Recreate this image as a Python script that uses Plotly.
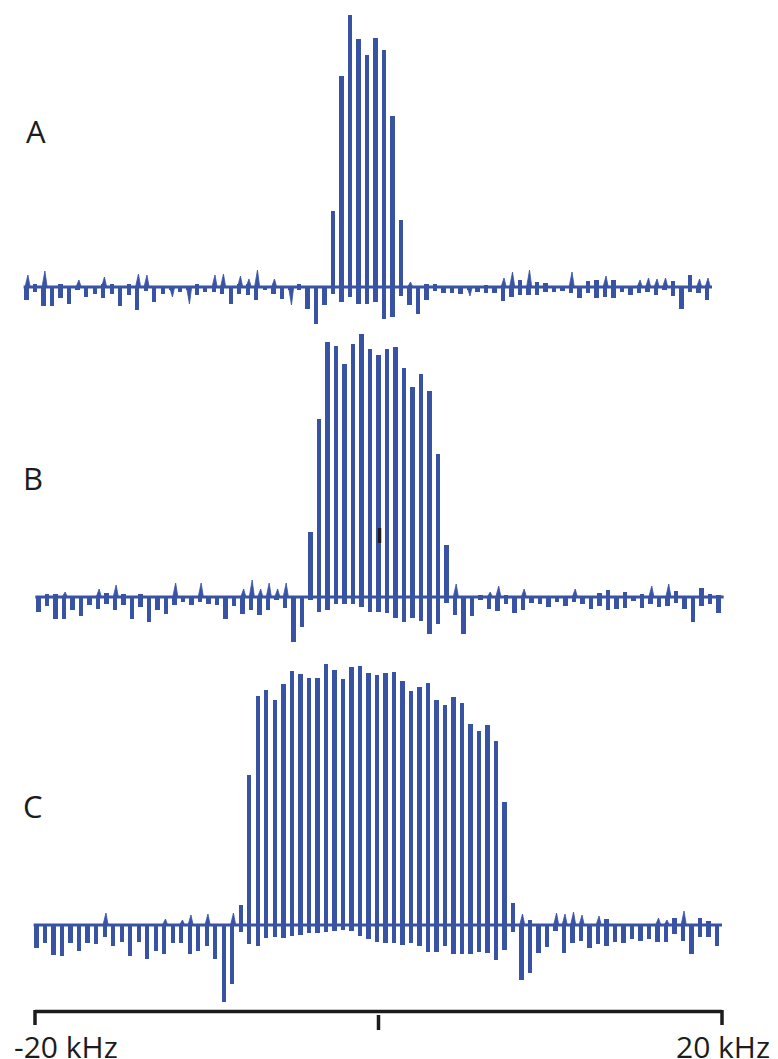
import plotly.graph_objects as go

# ---------------- data (intensities in arbitrary units) ----------------
FREQ_START_KHZ = -19.90
FREQ_STEP_KHZ = 0.495
N_LINES = 81

A_UP = [0,3,0,0,3,0,0,0,0,3, 3,0,3,0,0,0,0,0,0,0, 3,0,0,0,0,3,3,0,0,0,
        0,0,3,0,0,0,76,211,272,248, 232,249,237,171,67,0,0,3,3,0,
        0,0,0,0,2,0,0,0,7,0, 5,4,0,0,0,0,6,7,0,7, 0,0,0,0,0,0,6,0,12,0, 0]
A_DOWN = [13,5,19,19,11,17,3,10,7,11, 7,19,8,23,4,15,7,3,5,3, 8,5,5,7,17,7,8,13,3,7,
          12,3,3,22,37,18,7,15,10,17, 17,15,32,30,9,18,27,13,4,6,
          6,7,3,5,6,6,14,10,8,8, 8,5,5,4,6,11,6,11,10,11, 5,8,6,5,8,3,9,22,5,6, 13]
A_TRI = [12,0,16,0,0,0,7,0,0,10, 0,0,0,13,12,0,0,-10,0,-17, 0,0,12,13,0,11,8,17,0,8,
         0,-18,0,0,0,0,0,0,0,0, 0,0,0,0,0,5,0,0,0,0,
         0,0,-9,0,0,0,9,15,0,17, 0,0,0,0,15,0,0,0,11,0, 0,0,7,9,8,9,0,0,0,8, 9]

B_UP = [0,3,3,0,0,0,0,0,4,0, 3,0,3,0,0,0,0,0,0,0, 0,0,0,0,0,0,0,0,0,0,
        0,0,65,178,255,251,233,253,263,248, 242,248,250,229,210,223,206,143,52,0,
        0,0,2,0,0,2,0,0,0,0, 0,0,0,0,0,0,4,7,0,5, 0,3,0,0,0,6,0,0,9,3, 2]
B_DOWN = [15,9,22,22,13,19,8,12,7,13, 8,22,10,25,13,17,8,5,8,5, 7,8,22,9,17,13,18,13,3,11,
          45,30,3,15,13,7,7,7,10,15, 15,16,21,25,21,24,37,27,6,18,
          37,19,3,12,14,7,16,13,6,7, 10,5,9,5,7,12,9,13,12,11, 4,11,7,10,9,6,12,25,9,7, 16]
B_TRI = [0,0,0,5,0,0,0,8,0,12, 0,0,0,0,0,0,14,0,0,14, 0,0,0,0,8,17,8,14,8,14,
         0,0,0,0,0,0,0,0,0,0, 0,0,0,0,0,0,0,0,0,13,
         0,0,0,5,11,0,0,8,0,0, 0,0,0,8,0,0,0,0,0,0, 0,0,11,0,13,0,0,0,0,0, 0]

C_UP = [0,0,0,0,0,0,0,0,0,0, 0,0,0,0,0,0,0,0,0,0, 0,0,0,0,20,150,229,235,225,241,
        254,251,247,247,261,255,246,258,259,252, 250,252,253,244,234,238,242,225,220,228,
        222,201,194,200,184,123,22,0,5,0, 0,0,0,0,0,0,0,6,0,0, 0,0,0,0,0,7,0,0,7,4, 0]
C_DOWN = [23,18,30,31,18,26,18,19,12,21, 17,31,17,34,26,29,18,18,29,26, 21,34,77,59,7,19,21,13,12,13,
          11,10,8,8,7,6,5,6,11,14, 17,18,18,20,18,21,27,27,21,29,
          29,29,27,28,35,25,7,55,48,28, 22,6,28,18,16,23,19,21,17,18, 14,16,14,17,17,9,16,29,12,12, 21]
C_TRI = [0,0,0,0,0,0,0,0,12,0, 0,0,0,0,0,6,0,5,10,0, 11,0,0,12,0,0,0,0,0,0,
         0,0,0,0,0,0,0,0,0,0, 0,0,0,0,0,0,0,0,0,0,
         0,0,0,0,0,0,0,11,0,0, 0,12,11,13,10,0,9,0,0,0, 0,0,0,7,5,0,14,0,0,0, 0]

PANEL_LABELS = ["A", "B", "C"]
TICK_VALUES = [-20, 0, 20]
TICK_LABELS = ["-20 kHz", "", "20 kHz"]
CENTER_MARK_KHZ = 0.06          # small dark marker inside panel B
CENTER_MARK_SPAN = (54, 69)

# ---------------- geometry / style ----------------
W, H = 778, 1059
AXIS_LEFT_PX, AXIS_RIGHT_PX = 35, 722
PPK = (AXIS_RIGHT_PX - AXIS_LEFT_PX) / 40.0
BLUE = "#3953a4"
INK = "#1c1c1c"
FONT = "Open Sans"
STICK_W = 0.26
BASELINE_KHZ = (-20.08, 20.0)

positions = [FREQ_START_KHZ + FREQ_STEP_KHZ * i for i in range(N_LINES)]

panels = [
    dict(label=PANEL_LABELS[0], up=A_UP, down=A_DOWN, tri=A_TRI, shift=-10, top=0, bottom=332, base=287, lab=(36, 131)),
    dict(label=PANEL_LABELS[1], up=B_UP, down=B_DOWN, tri=B_TRI, shift=1.7, top=322, bottom=652, base=597, lab=(33, 478)),
    dict(label=PANEL_LABELS[2], up=C_UP, down=C_DOWN, tri=C_TRI, shift=0, top=648, bottom=1008, base=925, lab=(33, 806)),
]

fig = go.Figure()
layout = dict(width=W, height=H, margin=dict(l=0, r=0, t=0, b=0),
              paper_bgcolor="white", plot_bgcolor="rgba(0,0,0,0)", showlegend=False,
              bargap=0)
annotations = []
shapes = []

axis_ids = {"C": ("x", "y", ""), "B": ("x2", "y2", "2"), "A": ("x3", "y3", "3")}

for p in panels:
    xa, ya, suf = axis_ids[p["label"]]
    left = -20 - (AXIS_LEFT_PX + p["shift"]) / PPK
    right = left + W / PPK
    layout["xaxis" + suf] = dict(domain=[0, 1], range=[left, right], visible=False,
                                 anchor=ya, fixedrange=True)
    layout["yaxis" + suf] = dict(domain=[(H - p["bottom"]) / H, (H - p["top"]) / H],
                                 range=[-(p["bottom"] - p["base"]), p["base"] - p["top"]],
                                 visible=False, anchor=xa, fixedrange=True)
    # baseline
    fig.add_trace(go.Scatter(x=list(BASELINE_KHZ), y=[0, 0], mode="lines",
                             line=dict(color=BLUE, width=3), xaxis=xa, yaxis=ya, hoverinfo="skip"))
    # narrow triangular features on the baseline
    tx, ty = [], []
    for xp, h in zip(positions, p["tri"]):
        if h:
            tx += [xp - 0.10, xp + 0.07, xp + 0.20, None]
            ty += [0, h, 0, None]
    fig.add_trace(go.Scatter(x=tx, y=ty, mode="lines", fill="toself", fillcolor=BLUE,
                             line=dict(color=BLUE, width=0.8), xaxis=xa, yaxis=ya, hoverinfo="skip"))
    # sticks (from -down to +up)
    fig.add_trace(go.Bar(x=positions, y=[u + d for u, d in zip(p["up"], p["down"])],
                         base=[-d for d in p["down"]], width=STICK_W,
                         marker=dict(color=BLUE, line=dict(width=0)),
                         xaxis=xa, yaxis=ya, hoverinfo="skip"))
    annotations.append(dict(text=p["label"], x=p["lab"][0] / W, y=(H - p["lab"][1]) / H,
                            xref="paper", yref="paper", xanchor="center", yanchor="middle",
                            showarrow=False, font=dict(family=FONT, size=31, color=INK)))

# small dark marker in panel B
shapes.append(dict(type="rect", xref="x", yref="y2",
                   x0=CENTER_MARK_KHZ - 0.1, x1=CENTER_MARK_KHZ + 0.1,
                   y0=CENTER_MARK_SPAN[0], y1=CENTER_MARK_SPAN[1],
                   fillcolor=INK, line=dict(width=0)))

# frequency axis drawn at the bottom
AXIS_Y = (H - 1011.5) / H
shapes.append(dict(type="line", xref="x", yref="paper", x0=min(TICK_VALUES), x1=max(TICK_VALUES),
                   y0=AXIS_Y, y1=AXIS_Y, line=dict(color=INK, width=3.5)))
for tv in TICK_VALUES:
    top_py, bot_py = (1015, 1030) if tv == 0 else (1010, 1025)
    shapes.append(dict(type="line", xref="x", yref="paper", x0=tv, x1=tv,
                       y0=(H - top_py) / H, y1=(H - bot_py) / H, line=dict(color=INK, width=3.5)))
for tv, tl in zip(TICK_VALUES, TICK_LABELS):
    if not tl:
        continue
    if tv < 0:
        annotations.append(dict(text=tl, x=tv, xref="x", y=(H - 1046) / H, yref="paper",
                                xanchor="left", yanchor="middle", xshift=-23, showarrow=False,
                                font=dict(family=FONT, size=30, color=INK)))
    else:
        annotations.append(dict(text=tl, x=tv, xref="x", y=(H - 1046) / H, yref="paper",
                                xanchor="center", yanchor="middle", xshift=1, showarrow=False,
                                font=dict(family=FONT, size=30, color=INK)))

layout["annotations"] = annotations
layout["shapes"] = shapes
fig.update_layout(**layout)

POST = ("document.documentElement.style.margin='0';document.body.style.margin='0';"
        "document.body.style.overflow='hidden';")
fig.write_html("out.html", config={"displayModeBar": False}, post_script=POST)
